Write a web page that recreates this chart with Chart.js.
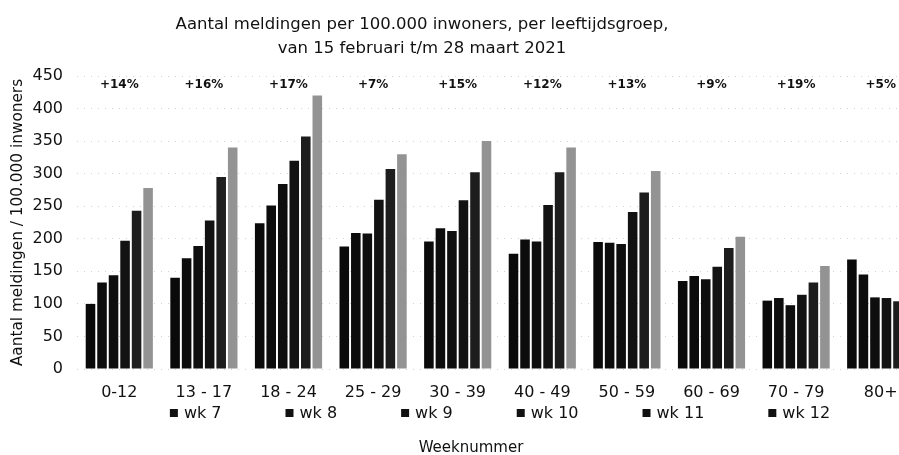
<!DOCTYPE html>
<html>
<head>
<meta charset="utf-8">
<script src="https://cdn.jsdelivr.net/npm/chart.js@4"></script>
<style>
html, body { margin: 0; padding: 0; background: #fff; overflow: hidden; }
#wrap { width: 923px; height: 455px; }
</style>
</head>
<body>
<div id="wrap"><canvas id="myChart"></canvas></div>
<script>
// leeftijdsgroepen en weken
var groups = ['0-12', '13 - 17', '18 - 24', '25 - 29', '30 - 39', '40 - 49', '50 - 59', '60 - 69', '70 - 79', '80+'];
var weeks = ['wk 7', 'wk 8', 'wk 9', 'wk 10', 'wk 11', 'wk 12'];

// meldingen per 100.000 inwoners
var wk7 = [100, 140, 224, 188, 196, 177, 195, 135, 105, 168];
var wk8 = [133, 170, 251, 209, 216, 199, 194, 143, 109, 145];
var wk9 = [144, 189, 284, 208, 212, 196, 192, 138, 98, 110];
var wk10 = [197, 228, 320, 260, 259, 252, 241, 157, 114, 109];
var wk11 = [243, 295, 357, 307, 302, 302, 271, 186, 133, 104];
var wk12 = [278, 340, 420, 330, 350, 340, 304, 203, 158, 105];

var changes = ['+14%', '+16%', '+17%', '+7%', '+15%', '+12%', '+13%', '+9%', '+19%', '+5%'];
var yMax = 450;
var yStep = 50;
var titleLines = ['Aantal meldingen per 100.000 inwoners, per leeftijdsgroep,', 'van 15 februari t/m 28 maart 2021'];
var xTitle = 'Weeknummer';

var series = [wk7, wk8, wk9, wk10, wk11, wk12];
var colors = ['#0a0a0a', '#0c0c0c', '#0e0e0e', '#121212', '#1d1d1d', '#939393'];

Chart.defaults.font.family = '"DejaVu Sans", Verdana, sans-serif';
Chart.defaults.color = '#111';

// titel, percentages, legenda en x-titel zelf tekenen
var extras = {
    id: 'extras',
    afterDraw: function(chart) {
        var ctx = chart.ctx;
        var x = chart.scales.x;
        var area = chart.chartArea;
        ctx.save();
        ctx.fillStyle = '#111';
        ctx.textAlign = 'center';
        ctx.textBaseline = 'alphabetic';
        ctx.font = '16.5px "DejaVu Sans"';
        ctx.fillText(titleLines[0], 422, 29);
        ctx.fillText(titleLines[1], 422, 53);

        ctx.font = 'bold 12px "DejaVu Sans"';
        changes.forEach(function(c, i) {
            ctx.fillText(c, x.getPixelForValue(i), area.top + 12);
        });

        ctx.font = '15px "DejaVu Sans"';
        ctx.textBaseline = 'middle';
        ctx.fillText(xTitle, 471, 448);

        ctx.font = '16px "DejaVu Sans"';
        var box = 8, gap = 64;
        var widths = weeks.map(function(w) {
            return box + 6 + ctx.measureText(w).width;
        });
        var total = widths.reduce(function(a, b) { return a + b; }, 0) + gap * (weeks.length - 1);
        var lx = (area.left + area.right) / 2 - total / 2;
        var ly = area.bottom + 44;
        ctx.textAlign = 'left';
        weeks.forEach(function(w, i) {
            ctx.fillStyle = '#111';
            ctx.fillRect(lx, ly - box / 2, box, box);
            ctx.fillText(w, lx + box + 6, ly + 1);
            lx += widths[i] + gap;
        });
        ctx.restore();
    }
};

var ctx = document.getElementById('myChart').getContext('2d');
var myChart = new Chart(ctx, {
    type: 'bar',
    data: {
        labels: groups,
        datasets: weeks.map(function(w, i) {
            return {
                label: w,
                data: series[i],
                backgroundColor: colors[i],
                borderWidth: 0,
                barPercentage: 0.83,
                categoryPercentage: 0.817
            };
        })
    },
    options: {
        responsive: true,
        maintainAspectRatio: false,
        animation: false,
        layout: { padding: { top: 76, left: 0, right: 0, bottom: 0 } },
        plugins: {
            legend: { display: false },
            tooltip: { enabled: false }
        },
        scales: {
            x: {
                afterFit: function(scale) { scale.height = 86; },
                grid: { display: false, drawTicks: false },
                border: { display: false },
                ticks: { padding: 14, font: { size: 16 }, maxRotation: 0, autoSkip: false, color: '#111' }
            },
            y: {
                afterFit: function(scale) { scale.width = 77; },
                min: 0,
                max: yMax,
                grid: { color: '#d2d2d2', drawTicks: false },
                border: { display: false, dash: [1, 6] },
                ticks: { stepSize: yStep, padding: 14, font: { size: 16 }, color: '#111' },
                title: {
                    display: true,
                    text: 'Aantal meldingen / 100.000 inwoners',
                    font: { size: 15.3 },
                    padding: { top: 9, bottom: 5 },
                    color: '#111'
                }
            }
        }
    },
    plugins: [extras]
});
</script>
</body>
</html>
